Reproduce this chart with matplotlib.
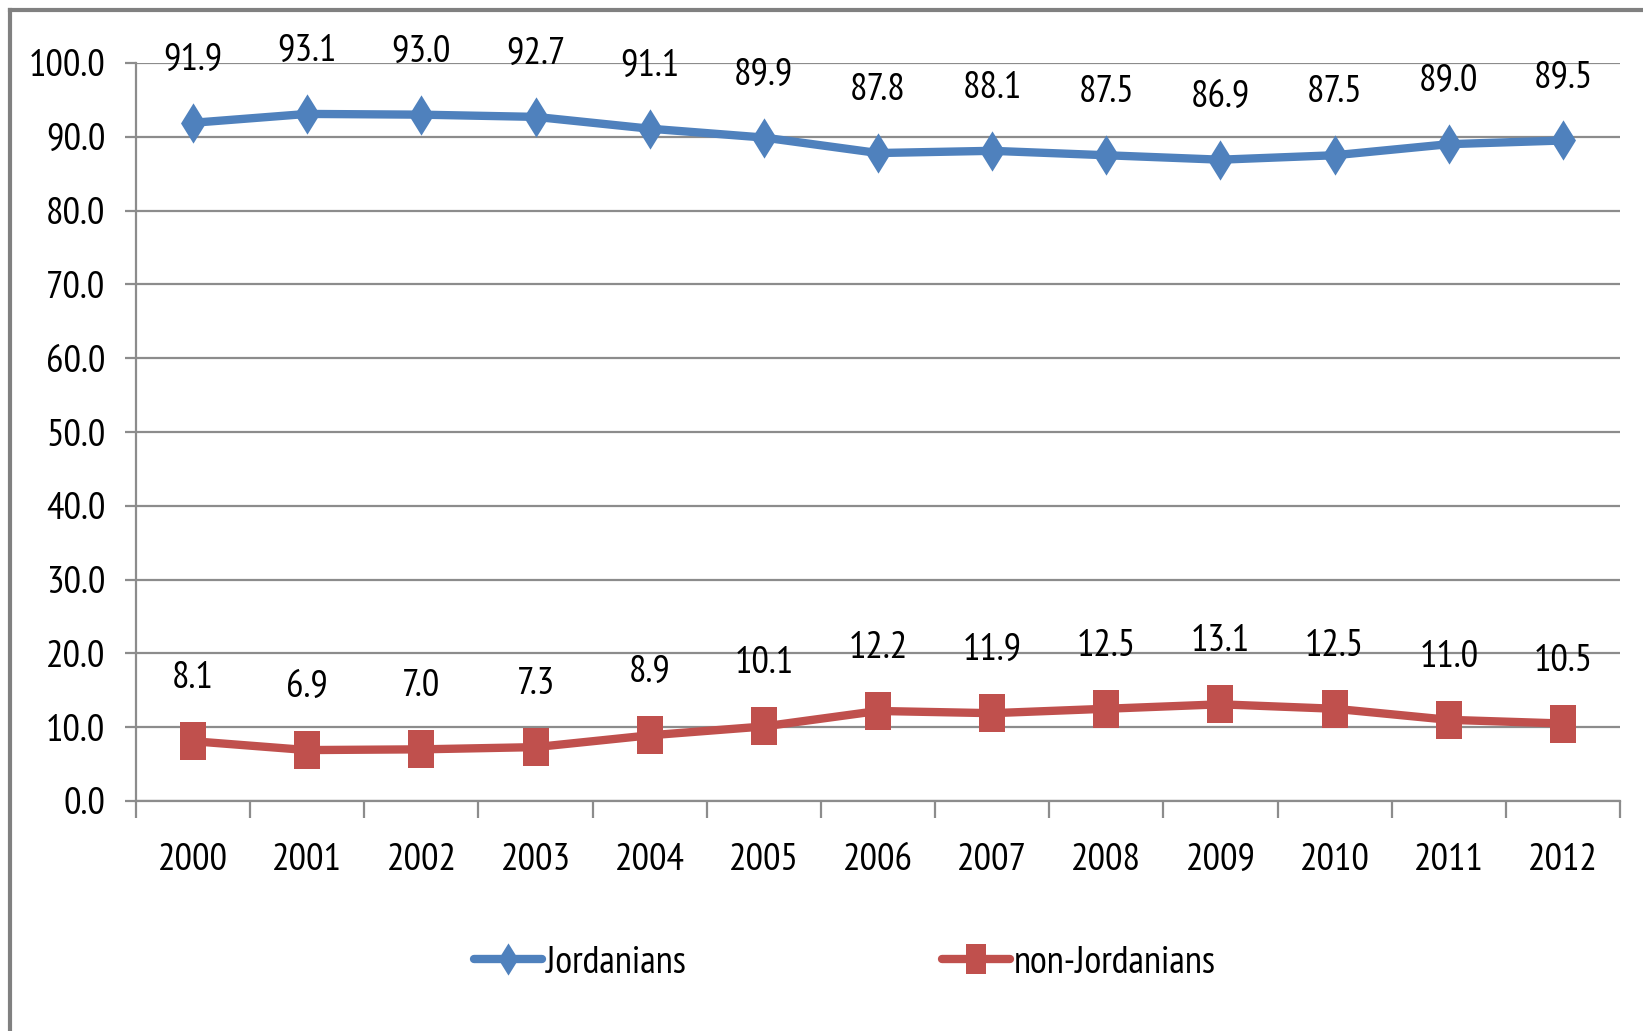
import matplotlib
matplotlib.use("Agg")
import matplotlib.pyplot as plt
from matplotlib import font_manager
from matplotlib.path import Path
from matplotlib.lines import Line2D

years = ["2000", "2001", "2002", "2003", "2004", "2005", "2006",
         "2007", "2008", "2009", "2010", "2011", "2012"]
jordanians = [91.9, 93.1, 93.0, 92.7, 91.1, 89.9, 87.8, 88.1, 87.5, 86.9, 87.5, 89.0, 89.5]
non_jordanians = [8.1, 6.9, 7.0, 7.3, 8.9, 10.1, 12.2, 11.9, 12.5, 13.1, 12.5, 11.0, 10.5]
yticks = [0, 10, 20, 30, 40, 50, 60, 70, 80, 90, 100]

names = {f.name for f in font_manager.fontManager.ttflist}
fam = "DejaVu Sans"
for cand in ["PT Sans Narrow", "Liberation Sans Narrow", "Roboto Condensed"]:
    if cand in names:
        fam = cand
        break
plt.rcParams["font.family"] = [fam, "DejaVu Sans"]

W, H = 1643, 1031
fig = plt.figure(figsize=(W / 100, H / 100), dpi=100)
left, right, top, bottom = 136, 1620, 63, 801
ax = fig.add_axes([left / W, 1 - bottom / H, (right - left) / W, (bottom - top) / H])

blue = "#4F81BD"
red = "#C0504D"
grid_c = "#8c8c8c"
FS = 28

diamond = Path([(0, 1), (0.62, 0), (0, -1), (-0.62, 0), (0, 1)],
               [Path.MOVETO, Path.LINETO, Path.LINETO, Path.LINETO, Path.CLOSEPOLY])
rect = Path([(-0.68, -1), (0.68, -1), (0.68, 1), (-0.68, 1), (-0.68, -1)],
            [Path.MOVETO, Path.LINETO, Path.LINETO, Path.LINETO, Path.CLOSEPOLY])

x = list(range(len(years)))
ax.plot(x, jordanians, color=blue, lw=6, marker=diamond, markersize=29,
        markeredgewidth=0, label="Jordanians", solid_capstyle="round", zorder=3)
ax.plot(x, non_jordanians, color=red, lw=6, marker=rect, markersize=27,
        markeredgewidth=0, label="non-Jordanians", solid_capstyle="round", zorder=3)

for xi, v in zip(x, jordanians):
    ax.annotate(f"{v:.1f}", (xi, v), xytext=(0, 45), textcoords="offset points",
                ha="center", va="center", fontsize=FS, clip_on=False, zorder=4)
for xi, v in zip(x, non_jordanians):
    ax.annotate(f"{v:.1f}", (xi, v), xytext=(0, 45), textcoords="offset points",
                ha="center", va="center", fontsize=FS, clip_on=False, zorder=4)

ax.set_xlim(-0.5, len(years) - 0.5)
ax.set_ylim(0, 100)
ax.set_yticks(yticks)
ax.set_yticklabels([f"{t:.1f}" for t in yticks], fontsize=FS)
ax.yaxis.grid(True, color=grid_c, lw=1.6)
ax.set_axisbelow(True)

ax.set_xticks([i - 0.5 for i in range(len(years) + 1)])
ax.set_xticklabels([])
ax.set_xticks(x, minor=True)
ax.set_xticklabels(years, minor=True, fontsize=FS)
ax.tick_params(axis="x", which="major", length=12, width=1.6, color=grid_c, direction="out")
ax.tick_params(axis="x", which="minor", length=0, pad=30)
ax.tick_params(axis="y", length=8, width=1.6, color=grid_c, pad=14)

for s in ["top", "right"]:
    ax.spines[s].set_visible(False)
for s in ["left", "bottom"]:
    ax.spines[s].set_color(grid_c)
    ax.spines[s].set_linewidth(1.6)

fig.legend(loc="center", bbox_to_anchor=(845 / W, 1 - 963 / H), ncol=2, frameon=False,
           fontsize=FS, handlelength=1.75, handletextpad=0.1, columnspacing=6.6,
           markerscale=0.8)

# outer chart frame (top and left edges visible)
fig.add_artist(Line2D([10 / W, 10 / W], [0, 1 - 10 / H], transform=fig.transFigure,
                      color="#808080", lw=3))
fig.add_artist(Line2D([10 / W, 1], [1 - 10 / H, 1 - 10 / H], transform=fig.transFigure,
                      color="#808080", lw=3))

fig.savefig("out.png", dpi=100)
